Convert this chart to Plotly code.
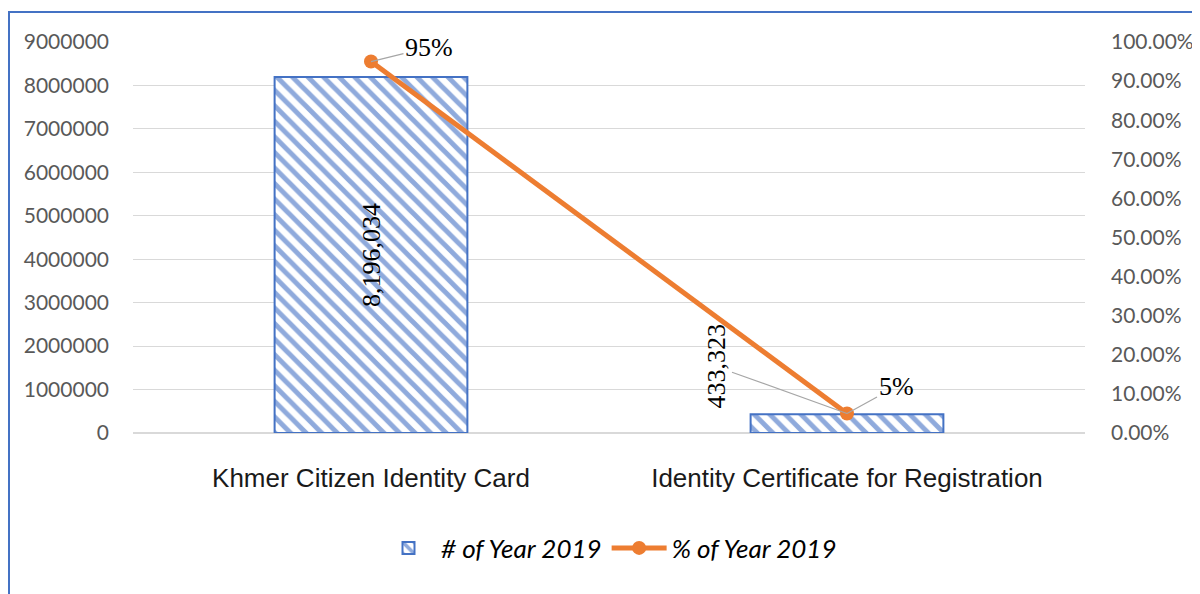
import plotly.graph_objects as go

categories = ["Khmer Citizen Identity Card", "Identity Certificate for Registration"]
counts = [8196034, 433323]
percents = [0.95, 0.05]
count_labels = ["8,196,034", "433,323"]
percent_labels = ["95%", "5%"]
left_ticks = [0, 1000000, 2000000, 3000000, 4000000, 5000000, 6000000, 7000000, 8000000, 9000000]
right_ticks = [0, 0.1, 0.2, 0.3, 0.4, 0.5, 0.6, 0.7, 0.8, 0.9, 1.0]

BLUE = "#4472C4"
LIGHTBLUE = "#8FAADC"
ORANGE = "#ED7D31"
TICK_FONT = dict(family="Lato, Open Sans, sans-serif", size=21, color="#595959")
LABEL_FONT = dict(family="Liberation Serif, serif", size=26, color="#000000")

# page offset (body margin) of 8px
OFF = 8
FIG_W, FIG_H = 1200 - OFF, 594 - OFF

fig = go.Figure()

fig.add_trace(go.Bar(
    x=categories, y=counts,
    name="<i># of Year 2019</i>",
    width=0.405,
    marker=dict(color="white", line=dict(color=BLUE, width=2),
                pattern=dict(shape="\\", fgcolor=LIGHTBLUE, bgcolor="white",
                             size=11, solidity=0.45, fillmode="replace")),
    text=[count_labels[0], ""],
    textposition="inside", textangle=-90, insidetextanchor="middle",
    textfont=LABEL_FONT,
    hoverinfo="skip",
))

fig.add_trace(go.Scatter(
    x=categories, y=percents, yaxis="y2",
    name="<i>% of Year 2019</i>",
    mode="lines+markers",
    line=dict(color=ORANGE, width=5),
    marker=dict(color=ORANGE, size=14),
    hoverinfo="skip",
))

ann = []
ann.append(dict(x=categories[0], y=percents[0], xref="x", yref="y2", text=percent_labels[0],
                showarrow=True, arrowhead=0, arrowwidth=1.2, arrowcolor="#A6A6A6",
                ax=58, ay=-14, font=LABEL_FONT, standoff=0))
ann.append(dict(x=categories[1], y=percents[1], xref="x", yref="y2", text=percent_labels[1],
                showarrow=True, arrowhead=0, arrowwidth=1.2, arrowcolor="#A6A6A6",
                ax=49, ay=-27, font=LABEL_FONT, standoff=0))
ann.append(dict(x=categories[1], y=percents[1], xref="x", yref="y2", text=count_labels[1],
                showarrow=True, arrowhead=0, arrowwidth=1.2, arrowcolor="#A6A6A6",
                ax=-131, ay=-47, font=LABEL_FONT, textangle=-90, standoff=0))

# chart border (page pixel coordinates converted to paper)
L, R, T, B = 133, 1085, 42, 433
W = R - L
H = B - T
shapes = [dict(type="rect", xref="paper", yref="paper",
               x0=(9 - L) / W, x1=(1260 - L) / W,
               y0=(B - 640) / H, y1=(B - 12) / H,
               line=dict(color=BLUE, width=2), fillcolor="rgba(0,0,0,0)", layer="below")]

fig.update_layout(
    width=FIG_W, height=FIG_H,
    margin=dict(l=L - OFF, r=1200 - R, t=T - OFF, b=594 - B, autoexpand=False),
    paper_bgcolor="white", plot_bgcolor="white",
    showlegend=True,
    legend=dict(orientation="h", x=0.5, xanchor="center", y=(B - 548) / H, yanchor="middle",
                font=dict(family="Lato, Noto Sans, sans-serif", size=26, color="#000000"),
                itemwidth=55, traceorder="normal"),
    xaxis=dict(showgrid=False, showline=False, ticks="", automargin=False,
               tickfont=dict(family="Liberation Sans, Arial, sans-serif", size=26, color="#1a1a1a"),
               ticklabelstandoff=27),
    yaxis=dict(range=[0, 9000000], tickvals=left_ticks, ticktext=[str(v) for v in left_ticks],
               showgrid=True, gridcolor="#D9D9D9", gridwidth=1, zeroline=True, zerolinecolor="#D9D9D9",
               showline=False, tickfont=TICK_FONT, ticklabelstandoff=23, automargin=False),
    yaxis2=dict(range=[0, 1], tickvals=right_ticks, tickformat=".2%", overlaying="y", side="right",
                showgrid=False, zeroline=False, showline=False, tickfont=TICK_FONT,
                ticklabelstandoff=25, automargin=False),
    annotations=ann,
    shapes=shapes,
    bargap=0.5,
)

fig.write_html("out.html")
